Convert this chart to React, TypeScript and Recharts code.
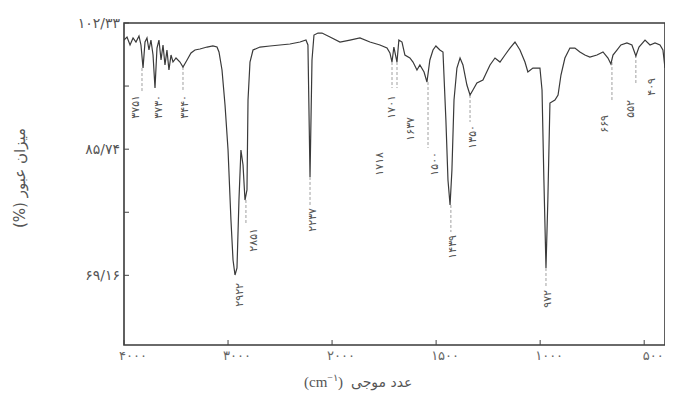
import { ComposedChart, Line, Scatter, XAxis, YAxis, ReferenceArea, ReferenceLine } from 'recharts';

// طیف IR - عدد موجی (cm-1) و درصد عبور
const wavenumbers = [
  4000, 3971, 3942, 3913, 3885, 3856, 3837, 3817, 3798, 3779, 3760, 3741, 3721, 3702, 3683, 3664,
  3644, 3625, 3606, 3587, 3568, 3548, 3529, 3500, 3462, 3433, 3394, 3356, 3318, 3270, 3202, 3145,
  3106, 3087, 3058, 3029, 3000, 2972, 2952, 2933, 2914, 2895, 2876, 2856, 2837, 2818, 2808, 2789,
  2760, 2693, 2597, 2501, 2405, 2308, 2251, 2232, 2212, 2193, 2174, 2135, 2097, 2020,
  1962, 1914, 1866, 1818, 1770, 1736, 1722, 1712, 1703, 1688, 1679, 1664, 1650, 1626, 1611, 1592,
  1578, 1558, 1544, 1530, 1515, 1501, 1482, 1467, 1453, 1443, 1433, 1424, 1414, 1400, 1385, 1371,
  1352, 1337, 1323, 1304, 1275, 1241, 1217, 1193, 1169, 1145, 1121, 1097, 1073, 1059, 1035, 1001,
  991, 982, 972, 963, 953, 929, 914, 900, 881, 857, 833, 809, 785, 761, 727, 698,
  674, 660, 650, 631, 612, 583, 559, 540, 525, 496, 472, 448, 424, 410, 400,
];
const transmittance = [
  100.09, 100.49, 99.44, 100.36, 99.83, 100.62, 99.44, 96.41, 99.83, 100.36, 98.78, 100.09, 98.12, 93.78, 99.04, 100.09,
  97.47, 99.44, 96.81, 98.78, 96.15, 98.12, 97.2, 97.73, 97.2, 96.55, 97.47, 98.39, 98.78, 98.91, 99.17, 99.31,
  99.17, 98.52, 96.15, 91.55, 85.63, 76.43, 71.17, 69.2, 70.12, 79.06, 85.63, 83.66, 79.06, 80.38, 92.21, 97.2,
  98.78, 99.17, 99.31, 99.44, 99.57, 99.83, 100.09, 99.44, 82.09, 97.47, 100.75, 101.01, 101.01, 100.49,
  99.83, 100.09, 100.36, 99.83, 99.44, 99.04, 98.39, 97.2, 99.17, 97.2, 100.09, 99.83, 98.12, 97.73, 97.2, 96.15,
  96.81, 95.89, 94.57, 97.47, 98.78, 99.31, 98.78, 98.52, 89.58, 81.69, 78.41, 83.01, 92.21, 96.41, 97.73, 96.81,
  94.18, 92.86, 93.52, 94.44, 94.84, 96.81, 97.73, 97.2, 98.12, 99.04, 99.83, 98.78, 97.2, 95.89, 96.41, 96.41,
  93.52, 81.69, 70.12, 79.06, 91.81, 92.21, 92.86, 95.49, 97.73, 99.04, 99.04, 98.52, 98.12, 97.86, 98.12, 98.52,
  97.73, 96.94, 98.12, 98.78, 99.44, 99.7, 99.44, 97.99, 99.17, 100.09, 99.44, 99.7, 99.44, 98.78, 96.41,
];

const xTickValues = [4000, 3000, 2000, 1500, 1000, 500];
const xTickLabels = ['۴۰۰۰', '۳۰۰۰', '۲۰۰۰', '۱۵۰۰', '۱۰۰۰', '۵۰۰'];
const yTickValues = [69.16, 77.45, 85.74, 94.04, 102.33];
const yTickLabels = ['۶۹/۱۶', '', '۸۵/۷۴', '', '۱۰۲/۳۳'];

// برچسب قله‌ها: متن، عدد موجی محل نوشتن، و درصد عبور بالای متن
const peakTexts = ['۳۷۵۱', '۳۷۳۰', '۳۴۴۰', '۲۹۲۲', '۲۸۵۱', '۲۲۳۷', '۱۷۱۸', '۱۷۰۱', '۱۶۳۷', '۱۵۰۰', '۱۴۳۹', '۱۳۵۰', '۹۷۲', '۶۶۹', '۵۵۲', '۴۰۹'];
const peakTextWn = [3894, 3673, 3414, 2885, 2760, 2184, 1770, 1712, 1621, 1506, 1419, 1323, 963, 689, 568, 463];
const peakTextTop = [92.86, 92.86, 92.86, 68.15, 75.38, 78.01, 85.37, 92.86, 89.97, 85.37, 74.46, 88.92, 67.23, 90.24, 92.21, 95.1];

// خطوط راهنما از قله تا برچسب
const guideWn = [3827, 3433, 2828, 2212, 1712, 1688, 1539, 1429, 1337, 972, 655, 540];
const guideFrom = [96.41, 96.55, 79.06, 82.09, 97.2, 97.2, 94.57, 78.41, 92.86, 70.12, 97.2, 98.12];
const guideTo = [93.26, 93.26, 75.77, 78.4, 93.78, 93.78, 85.9, 74.85, 89.32, 67.49, 91.94, 94.18];

// محور افقی: بالای ۲۰۰۰ مقیاس نصف
const toPos = (wn: number) => (wn >= 2000 ? (4000 - wn) / 2 : 1000 + (2000 - wn));

const spectrum = wavenumbers.map((wn, i) => ({ pos: toPos(wn), t: transmittance[i] }));
const peaks = peakTexts.map((label, i) => ({ pos: toPos(peakTextWn[i]), t: peakTextTop[i], label }));

const FONT = '"DejaVu Sans", sans-serif';

const YTick = (props: any) => {
  const { x, y, payload } = props;
  const idx = yTickValues.indexOf(payload.value);
  const label = idx >= 0 ? yTickLabels[idx] : '';
  return (
    <g>
      <line x1={x} x2={x + 5} y1={y} y2={y} stroke="#444" strokeWidth={1} />
      {label && (
        <text x={x - 4} y={y + 5} textAnchor="end" fontSize={14} fill="#555" fontFamily={FONT} letterSpacing={2}>
          {label}
        </text>
      )}
    </g>
  );
};

const XTick = (props: any) => {
  const { x, y, payload } = props;
  const idx = xTickValues.map(toPos).indexOf(payload.value);
  return (
    <g>
      <line x1={x} x2={x} y1={y} y2={y - 5} stroke="#444" strokeWidth={1} />
      <text x={x + 9} y={y + 15} textAnchor="middle" fontSize={13} fill="#666" fontFamily={FONT} letterSpacing={4}>
        {idx >= 0 ? xTickLabels[idx] : ''}
      </text>
    </g>
  );
};

const PeakLabel = (props: any) => {
  const { cx, cy, payload } = props;
  return (
    <text
      x={cx}
      y={cy}
      transform={`rotate(-90 ${cx} ${cy})`}
      textAnchor="end"
      dominantBaseline="central"
      fontSize={11}
      letterSpacing={2}
      fill="#555"
      fontFamily={FONT}
    >
      {payload.label}
    </text>
  );
};

export default function App() {
  return (
    <div style={{ position: 'relative', width: 665, height: 397 }}>
      <ComposedChart width={665} height={397} margin={{ top: 15, right: 8, bottom: 20, left: 56 }}>
        <XAxis
          type="number"
          dataKey="pos"
          domain={[0, 2600]}
          ticks={xTickValues.map(toPos)}
          axisLine={false}
          tickLine={false}
          tickSize={0}
          tickMargin={0}
          height={40}
          tick={<XTick />}
          allowDataOverflow
        />
        <YAxis
          type="number"
          domain={[60, 102.33]}
          ticks={yTickValues}
          axisLine={false}
          tickLine={false}
          tickSize={0}
          tickMargin={0}
          width={60}
          tick={<YTick />}
          allowDataOverflow
        />
        <ReferenceArea x1={0} x2={2600} y1={60} y2={102.33} fill="none" stroke="#3a3a3a" strokeWidth={1.6} />
        {guideWn.map((wn, i) => (
          <ReferenceLine
            key={i}
            segment={[
              { x: toPos(wn), y: guideFrom[i] },
              { x: toPos(wn), y: guideTo[i] },
            ]}
            stroke="#888"
            strokeWidth={0.8}
            strokeDasharray="3 2"
          />
        ))}
        <Line
          data={spectrum}
          dataKey="t"
          type="linear"
          stroke="#3a3a3a"
          strokeWidth={1.2}
          dot={false}
          isAnimationActive={false}
        />
        <Scatter data={peaks} dataKey="t" shape={<PeakLabel />} isAnimationActive={false} />
      </ComposedChart>
      <div
        style={{
          position: 'absolute',
          left: 12,
          top: 170,
          transform: 'translate(-50%, -50%) rotate(-90deg)',
          whiteSpace: 'nowrap',
          direction: 'rtl',
          fontFamily: FONT,
          fontSize: 15,
          color: '#555',
        }}
      >
        میزان عبور (%)
      </div>
      <div
        style={{
          position: 'absolute',
          left: 296,
          top: 364,
          whiteSpace: 'nowrap',
          fontSize: 15,
          color: '#555',
          display: 'flex',
          gap: 8,
          alignItems: 'baseline',
        }}
      >
        <span style={{ fontFamily: '"Liberation Serif", serif' }}>
          (cm<sup style={{ fontSize: 10 }}>−۱</sup>)
        </span>
        <span style={{ fontFamily: FONT, fontSize: 14 }}>عدد موجی</span>
      </div>
    </div>
  );
}
